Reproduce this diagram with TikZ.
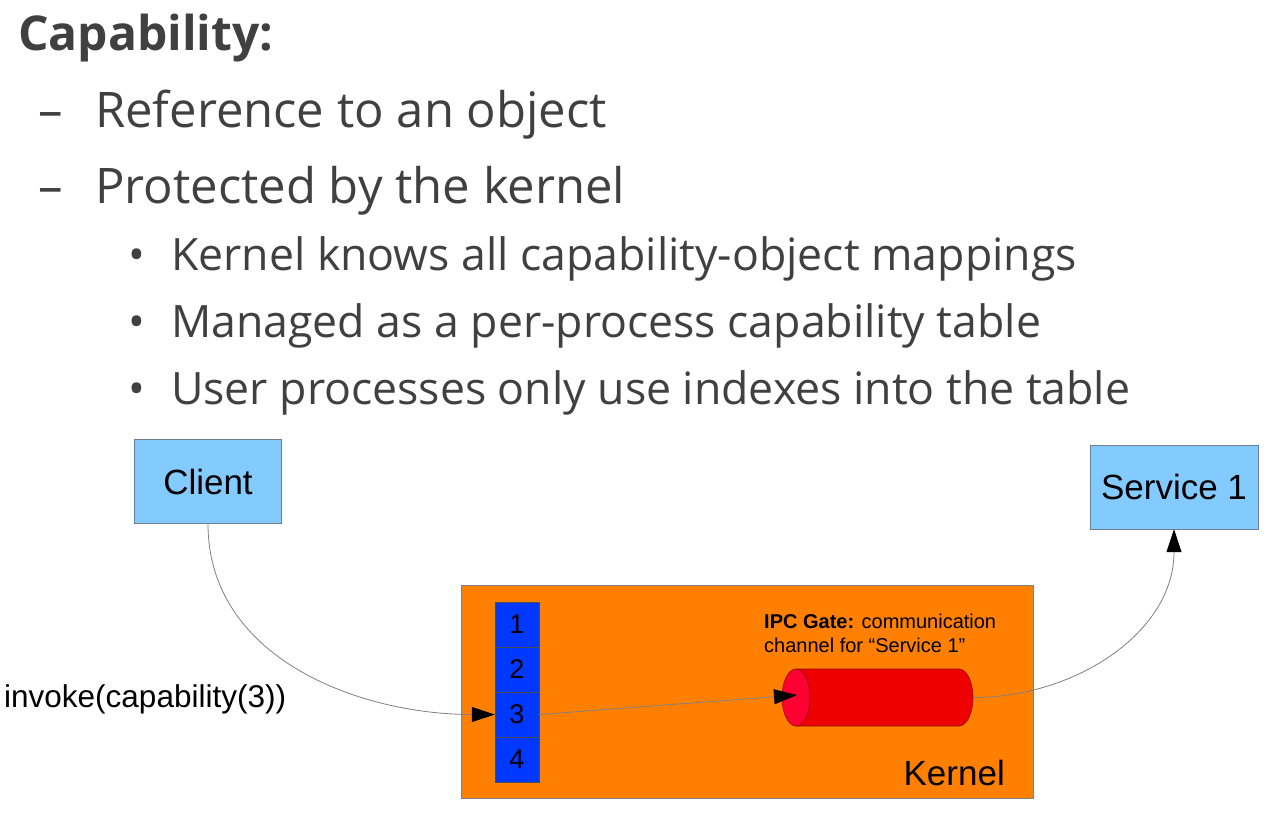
\documentclass[tikz,border=0pt]{standalone}
\usepackage{fontspec}
\setmainfont{Liberation Sans}
\newfontfamily\slidefont{Open Sans}
\usetikzlibrary{arrows.meta}

\definecolor{slidegray}{HTML}{404040}
\definecolor{boxblue}{HTML}{83CAFF}
\definecolor{boxline}{HTML}{6E7F91}
\definecolor{kernelorange}{HTML}{FF8000}
\definecolor{capblue}{HTML}{0038FF}
\definecolor{gatebody}{HTML}{EE0000}
\definecolor{gatefront}{HTML}{FF0033}
\definecolor{gateline}{HTML}{8B1010}
\definecolor{wire}{HTML}{808080}

\tikzset{
  title/.style={anchor=base west, inner sep=0, text=slidegray, font=\slidefont\bfseries\fontsize{48}{56}\selectfont},
  lvlone/.style={anchor=base west, inner sep=0, text=slidegray, font=\slidefont\fontsize{49}{56}\selectfont},
  lvltwo/.style={anchor=base west, inner sep=0, text=slidegray, font=\slidefont\fontsize{44.6}{52}\selectfont},
  proc/.style={shape=rectangle, draw=boxline, fill=boxblue, minimum height=84pt, font=\fontsize{35}{40}\selectfont},
  capcell/.style={shape=rectangle, draw=black!70, fill=capblue, minimum width=44pt, minimum height=45pt, inner sep=0, font=\fontsize{27}{30}\selectfont},
  conn/.style={draw=wire, line width=0.8pt, -{Triangle[length=23pt,width=15pt,fill=black,color=black]}}
}

\begin{document}
\begin{tikzpicture}[x=1pt, y=-1pt]
  \useasboundingbox[fill=white] (0,0) rectangle (1274,815);

  \node[title] (cap) at (18,50) {Capability:};
  \node[lvlone] (d1) at (38,127) {–};
  \node[lvlone] (ref) at (95,127) {Reference to an object};
  \node[lvlone] (d2) at (38,203) {–};
  \node[lvlone] (prot) at (95,203) {Protected by the kernel};
  \foreach \y/\t [count=\i] in {270/Kernel knows all capability-object mappings,
      337/Managed as a per-process capability table,
      404/User processes only use indexes into the table} {
    \node[lvltwo] (dot\i) at (128,\y) {•};
    \node[lvltwo] (b\i) at (171,\y) {\t};
  }

  \node[shape=rectangle, draw=wire, fill=kernelorange, minimum width=572pt, minimum height=213pt] (kernel) at (747,691.5) {};
  \node[anchor=base east, inner sep=0, font=\fontsize{35}{40}\selectfont] (klabel) at (1005,785) {Kernel};

  \node[proc, minimum width=147pt] (client) at (208,481.5) {Client};
  \node[proc, minimum width=168pt] (service) at (1174,487) {Service 1};

  \foreach \i in {1,...,4}
    \node[capcell] (c\i) at (517,{624.5+45*(\i-1)}) {\i};

  % IPC gate cylinder
  \node[shape=rectangle, minimum width=191pt, minimum height=57pt, inner sep=0] (gate) at (877.5,697.5) {};
  \filldraw[fill=gatebody, draw=gateline, line width=0.6pt] (796,669) -- (959,669)
    arc[start angle=-90, end angle=90, x radius=14, y radius=28.5] -- (796,726) -- cycle;
  \filldraw[fill=gatefront, draw=gateline, line width=0.6pt] (796,697.5) ellipse[x radius=14, y radius=28.5];
  \coordinate (gatein) at (797,695);
  \node[anchor=base west, inner sep=0, align=left, font=\fontsize{20}{24}\selectfont] (gatelbl) at (764,652)
    {\textbf{IPC Gate:} communication\\channel for “Service 1”};

  \node[anchor=base west, inner sep=0, font=\fontsize{31.5}{36}\selectfont] (call) at (4,707) {invoke(capability(3))};

  \draw[conn] (client.south) to[out=-90, in=180] (c3.west);
  \draw[conn] (c3.east) -- (gatein);
  \draw[conn] (gate.east) to[out=0, in=-90] (service.south);
\end{tikzpicture}
\end{document}
